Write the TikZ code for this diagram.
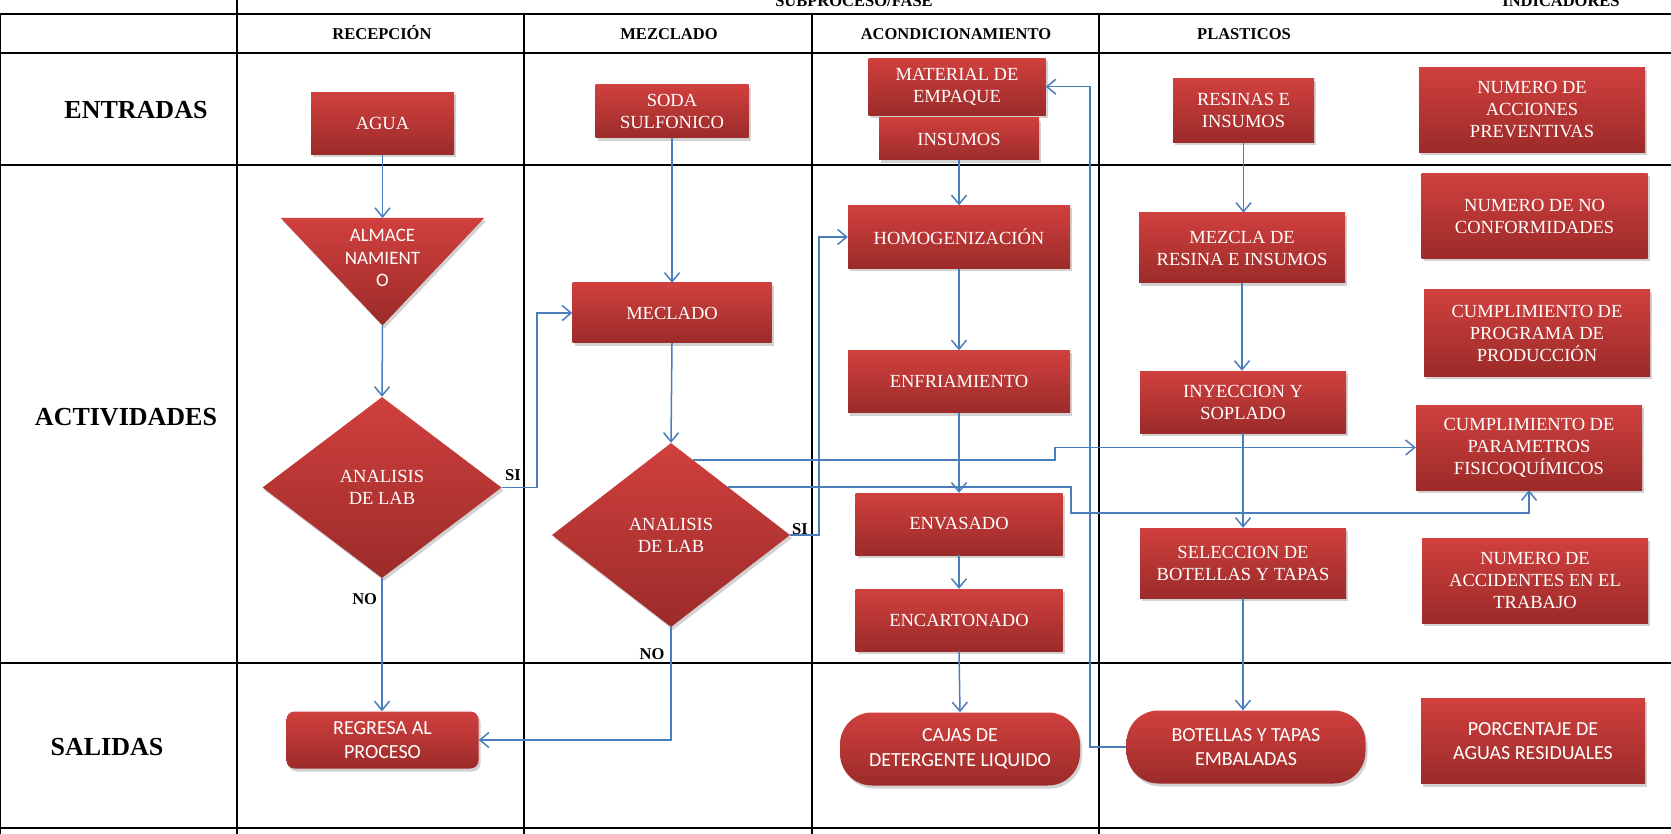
\documentclass[tikz,border=0pt]{standalone}
\usepackage{fontspec}
\usetikzlibrary{arrows.meta,shapes.geometric,shadows,calc}
\newfontfamily\tnr{Liberation Serif}
\newfontfamily\cbr{Carlito}
\definecolor{redT}{RGB}{208,64,62}
\definecolor{redB}{RGB}{155,43,41}
\definecolor{flow}{RGB}{74,126,187}
\newcommand\bxf{\tnr\fontsize{18.5}{22}\selectfont}
\newcommand\sbxf{\cbr\fontsize{20}{24.5}\selectfont}
\newcommand\hdf{\tnr\bfseries\fontsize{16.5}{19}\selectfont}
\newcommand\rwf{\tnr\bfseries\fontsize{26}{30}\selectfont}
\tikzset{
  redshade/.style={top color=redT, bottom color=redB,
    drop shadow={shadow xshift=2pt, shadow yshift=-3pt, fill=black!25, opacity=0.7}},
  proc/.style={redshade, rectangle, draw=none, inner sep=0pt, text=white,
    align=center, font=\bxf},
  sproc/.style={proc, font=\sbxf},
  decision/.style={redshade, diamond, draw=none, inner sep=0pt, text=white,
    align=center, font=\tnr\fontsize{18.5}{22}\selectfont},
  conn/.style={draw=flow, line width=1.5pt,
    -{Straight Barb[length=9pt,width=15pt,line width=1.5pt]}},
  flowline/.style={draw=flow, line width=1.5pt},
  rowline/.style={line width=2.2pt},
  colline/.style={line width=1.5pt},
  hd/.style={font=\hdf, inner sep=0pt, anchor=base},
  rowlab/.style={font=\rwf, inner sep=0pt, anchor=base},
}
\begin{document}
\begin{tikzpicture}[x=1pt,y=-1pt]
\useasboundingbox (0,0) rectangle (1671,834);
\clip (0,0) rectangle (1671,834);
\fill[white] (0,0) rectangle (1671,834);

% table grid
\foreach \yy in {14,53,165,663,828}
  \draw[rowline] (0,\yy) -- (1671,\yy);
\draw[colline] (237,0) -- (237,834);
\foreach \xx in {524,812,1099}
  \draw[colline] (\xx,14) -- (\xx,834);
\draw[line width=1pt] (0.5,14) -- (0.5,834);

% headings
\node[hd] (hsub) at (854,6.5) {SUBPROCESO/FASE};
\node[hd] (hind) at (1561,6.5) {INDICADORES};
\node[hd] (hrec) at (382,39.3) {RECEPCIÓN};
\node[hd] (hmez) at (669,39.3) {MEZCLADO};
\node[hd] (hacd) at (956,39.3) {ACONDICIONAMIENTO};
\node[hd] (hpla) at (1244,39.3) {PLASTICOS};
\node[rowlab] (lent) at (136,118.3) {ENTRADAS};
\node[rowlab] (lact) at (126,425) {ACTIVIDADES};
\node[rowlab] (lsal) at (107,755) {SALIDAS};

% inputs
\node[proc, minimum width=143pt, minimum height=62pt] (agua) at (382.5,123.5) {AGUA};
\node[proc, minimum width=153pt, minimum height=53pt] (soda) at (672,111.5) {SODA\\SULFONICO};
\node[proc, minimum width=177pt, minimum height=57pt] (mat) at (957,86.7) {MATERIAL DE\\EMPAQUE};
\node[proc, minimum width=160pt, minimum height=42pt] (ins) at (959,139) {INSUMOS};
\node[proc, minimum width=141pt, minimum height=64pt] (res) at (1243.5,110.5) {RESINAS E\\INSUMOS};
\node[proc, minimum width=226pt, minimum height=85pt] (ind1) at (1532,110) {NUMERO DE\\ACCIONES\\PREVENTIVAS};

% activities
\node[minimum width=203pt, minimum height=107pt, inner sep=0pt] (alm) at (382.5,271.7) {};
\path[redshade] (alm.north west) -- (alm.north east) -- (alm.south) -- cycle;
\node[text=white, align=center, inner sep=0pt, font=\cbr\fontsize{19}{22.5}\selectfont] (almtxt) at (382.5,258) {ALMACE\\NAMIENT\\O};
\node[decision, minimum width=239pt, minimum height=181pt] (an1) at (382,487.5) {ANALISIS\\DE LAB};
\node[proc, minimum width=199pt, minimum height=60pt] (mec) at (672,313) {MECLADO};
\node[decision, minimum width=238pt, minimum height=184pt] (an2) at (671,535) {ANALISIS\\DE LAB};
\node[proc, minimum width=222pt, minimum height=63pt] (hom) at (959,237) {HOMOGENIZACIÓN};
\node[proc, minimum width=222pt, minimum height=62pt] (enf) at (959,381.5) {ENFRIAMIENTO};
\node[proc, minimum width=207pt, minimum height=62pt] (env) at (959,524) {ENVASADO};
\node[proc, minimum width=207pt, minimum height=62pt] (enc) at (959,620) {ENCARTONADO};
\node[proc, minimum width=206pt, minimum height=70pt] (mez) at (1242,248) {MEZCLA DE\\RESINA E INSUMOS};
\node[proc, minimum width=206pt, minimum height=62pt] (iny) at (1243,402) {INYECCION Y\\SOPLADO};
\node[proc, minimum width=206pt, minimum height=70pt] (sel) at (1243,563) {SELECCION DE\\BOTELLAS Y TAPAS};
\node[proc, minimum width=226pt, minimum height=85pt] (ind2) at (1534.6,216) {NUMERO DE NO\\CONFORMIDADES};
\node[proc, minimum width=226pt, minimum height=86pt] (ind3) at (1537,333) {CUMPLIMIENTO DE\\PROGRAMA DE\\PRODUCCIÓN};
\node[proc, minimum width=226pt, minimum height=85pt] (par) at (1529,447.5) {CUMPLIMIENTO DE\\PARAMETROS\\FISICOQUÍMICOS};
\node[proc, minimum width=226pt, minimum height=85pt] (ind5) at (1535,580.5) {NUMERO DE\\ACCIDENTES EN EL\\TRABAJO};

% outputs
\node[sproc, rounded corners=8pt, minimum width=192pt, minimum height=57pt] (reg) at (382.5,740) {REGRESA AL\\PROCESO};
\node[sproc, rounded corners=32pt, minimum width=240pt, minimum height=73pt] (caj) at (960,749) {CAJAS DE\\DETERGENTE LIQUIDO};
\node[sproc, rounded corners=32pt, minimum width=239pt, minimum height=73pt] (bot) at (1246,747) {BOTELLAS Y TAPAS\\EMBALADAS};
\node[sproc, minimum width=224pt, minimum height=85pt] (ind6) at (1533,741) {PORCENTAJE DE\\AGUAS RESIDUALES};

% decision labels
\node[hd] (si1) at (513,480) {SI};
\node[hd] (si2) at (800,534) {SI};
\node[hd] (no1) at (364.7,604) {NO};
\node[hd] (no2) at (652,659) {NO};

% bend points
\coordinate (p1) at ($(an2.north)!0.185!(an2.east)$);
\coordinate (p2) at ($(an2.north)!0.478!(an2.east)$);
\coordinate (k1) at (1055,0);
\coordinate (k2) at (1071,513);
\coordinate (k3) at (1090,0);

% recepcion flow
\draw[conn] (agua.south) -- (alm.north);
\draw[conn] (alm.south) -- (an1.north);
\draw[conn] (an1.east) -- ++(35.5,0) |- (mec.west);
\draw[conn] (an1.south) -- (an1.south |- reg.north);
% mezclado flow
\draw[conn] (soda.south) -- (soda.south |- mec.north);
\draw[conn] (mec.south) -- (an2.north);
\draw[conn] (an2.south) |- (reg.east);
\draw[conn] (an2.east) -- ++(29,0) |- (hom.west);
\draw[conn] (p1) -- (p1 -| k1) |- (par.west);
\draw[conn] (p2) -| (k2) -| (par.south);
% acondicionamiento flow
\draw[conn] (ins.south) -- (hom.north);
\draw[conn] (hom.south) -- (enf.north);
\draw[conn] (enf.south) -- (env.north);
\draw[conn] (env.south) -- (enc.north);
\draw[conn] (enc.south) -- (caj.north);
% plasticos flow
\draw[conn] (res.south) -- (res.south |- mez.north);
\draw[conn] (mez.south) -- (mez.south |- iny.north);
\draw[conn] (iny.south) -- (sel.north);
\draw[conn] (sel.south) -- (sel.south |- bot.north);
\draw[conn] (bot.west) -- (bot.west -| k3) |- (mat.east);
\end{tikzpicture}
\end{document}
